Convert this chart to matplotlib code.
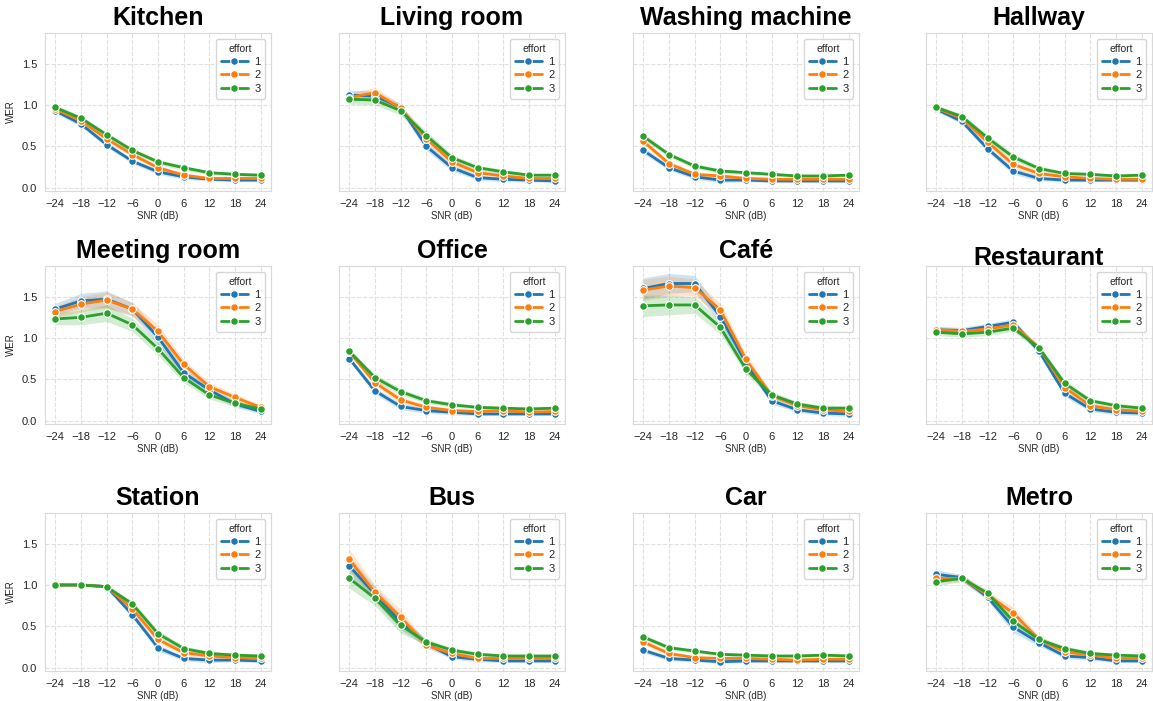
import numpy as np
import matplotlib
matplotlib.use("Agg")
import matplotlib.pyplot as plt
import seaborn as sns

sns.set_style("whitegrid", {"grid.linestyle": "--", "axes.edgecolor": ".85", "grid.color": ".88"})
plt.rcParams['font.family'] = ['Liberation Sans', 'DejaVu Sans']

snr = [-24, -18, -12, -6, 0, 6, 12, 18, 24]
efforts = ["1", "2", "3"]
colors = ["#1f77b4", "#ff7f0e", "#2ca02c"]

# mean WER per effort level (rows) over SNR
kitchen = [[0.93, 0.77, 0.52, 0.32, 0.19, 0.13, 0.10, 0.09, 0.09],
           [0.95, 0.81, 0.59, 0.40, 0.24, 0.15, 0.11, 0.11, 0.11],
           [0.97, 0.84, 0.64, 0.45, 0.31, 0.24, 0.18, 0.16, 0.15]]
living_room = [[1.12, 1.11, 0.97, 0.50, 0.24, 0.12, 0.10, 0.09, 0.08],
               [1.09, 1.15, 0.96, 0.59, 0.31, 0.18, 0.14, 0.11, 0.11],
               [1.07, 1.06, 0.93, 0.63, 0.36, 0.24, 0.19, 0.15, 0.15]]
washing_machine = [[0.45, 0.24, 0.13, 0.09, 0.09, 0.08, 0.08, 0.08, 0.08],
                   [0.56, 0.29, 0.16, 0.14, 0.11, 0.10, 0.10, 0.10, 0.10],
                   [0.62, 0.40, 0.26, 0.20, 0.18, 0.16, 0.14, 0.14, 0.15]]
hallway = [[0.95, 0.80, 0.47, 0.20, 0.11, 0.09, 0.09, 0.09, 0.09],
           [0.96, 0.84, 0.55, 0.28, 0.17, 0.13, 0.11, 0.10, 0.10],
           [0.97, 0.86, 0.60, 0.37, 0.23, 0.17, 0.16, 0.14, 0.15]]
meeting_room = [[1.35, 1.45, 1.47, 1.35, 1.01, 0.58, 0.37, 0.20, 0.11],
                [1.32, 1.41, 1.46, 1.35, 1.08, 0.68, 0.41, 0.28, 0.16],
                [1.23, 1.25, 1.30, 1.16, 0.87, 0.52, 0.31, 0.21, 0.14]]
office = [[0.75, 0.36, 0.17, 0.12, 0.10, 0.08, 0.08, 0.08, 0.08],
          [0.83, 0.46, 0.25, 0.16, 0.12, 0.11, 0.12, 0.10, 0.11],
          [0.84, 0.52, 0.35, 0.24, 0.19, 0.16, 0.15, 0.14, 0.15]]
cafe = [[1.60, 1.66, 1.66, 1.26, 0.70, 0.24, 0.13, 0.09, 0.08],
        [1.58, 1.63, 1.61, 1.34, 0.74, 0.30, 0.18, 0.13, 0.11],
        [1.39, 1.40, 1.40, 1.13, 0.62, 0.31, 0.20, 0.15, 0.15]]
restaurant = [[1.10, 1.09, 1.14, 1.19, 0.84, 0.33, 0.14, 0.10, 0.09],
              [1.10, 1.08, 1.11, 1.16, 0.88, 0.40, 0.18, 0.13, 0.11],
              [1.07, 1.05, 1.07, 1.12, 0.88, 0.45, 0.24, 0.18, 0.15]]
station = [[1.00, 1.00, 0.98, 0.64, 0.24, 0.11, 0.09, 0.09, 0.08],
           [1.00, 1.00, 0.98, 0.71, 0.34, 0.18, 0.14, 0.12, 0.11],
           [1.00, 1.00, 0.98, 0.77, 0.41, 0.23, 0.17, 0.15, 0.14]]
bus = [[1.23, 0.89, 0.55, 0.29, 0.13, 0.10, 0.08, 0.08, 0.08],
       [1.31, 0.91, 0.61, 0.27, 0.17, 0.11, 0.11, 0.11, 0.11],
       [1.08, 0.84, 0.51, 0.31, 0.21, 0.16, 0.14, 0.14, 0.14]]
car = [[0.21, 0.11, 0.09, 0.07, 0.08, 0.08, 0.08, 0.08, 0.08],
       [0.31, 0.17, 0.12, 0.11, 0.11, 0.10, 0.09, 0.10, 0.10],
       [0.37, 0.24, 0.20, 0.16, 0.15, 0.14, 0.14, 0.15, 0.14]]
metro = [[1.13, 1.09, 0.85, 0.49, 0.30, 0.14, 0.12, 0.08, 0.08],
         [1.08, 1.08, 0.88, 0.66, 0.34, 0.19, 0.15, 0.11, 0.11],
         [1.04, 1.08, 0.90, 0.56, 0.34, 0.23, 0.17, 0.15, 0.14]]

# half-width of the confidence band over SNR
kitchen_ci = [0.03, 0.03, 0.03, 0.03, 0.03, 0.03, 0.02, 0.02, 0.02]
living_room_ci = [0.06, 0.06, 0.05, 0.05, 0.04, 0.03, 0.03, 0.02, 0.02]
washing_machine_ci = [0.04, 0.03, 0.03, 0.03, 0.02, 0.02, 0.02, 0.02, 0.02]
hallway_ci = [0.03, 0.03, 0.04, 0.04, 0.03, 0.02, 0.02, 0.02, 0.02]
meeting_room_ci = [0.07, 0.09, 0.10, 0.08, 0.08, 0.06, 0.05, 0.04, 0.03]
office_ci = [0.03, 0.04, 0.04, 0.03, 0.03, 0.02, 0.02, 0.02, 0.02]
cafe_ci = [0.13, 0.12, 0.10, 0.08, 0.06, 0.04, 0.03, 0.03, 0.03]
restaurant_ci = [0.04, 0.04, 0.04, 0.04, 0.04, 0.04, 0.03, 0.03, 0.03]
station_ci = [0.0, 0.0, 0.01, 0.04, 0.04, 0.03, 0.03, 0.02, 0.02]
bus_ci = [0.12, 0.09, 0.09, 0.04, 0.03, 0.03, 0.02, 0.02, 0.02]
car_ci = [0.03, 0.03, 0.02, 0.02, 0.02, 0.02, 0.02, 0.02, 0.02]
metro_ci = [0.05, 0.04, 0.04, 0.07, 0.04, 0.03, 0.03, 0.02, 0.02]

panels = [("Kitchen", kitchen, kitchen_ci),
          ("Living room", living_room, living_room_ci),
          ("Washing machine", washing_machine, washing_machine_ci),
          ("Hallway", hallway, hallway_ci),
          ("Meeting room", meeting_room, meeting_room_ci),
          ("Office", office, office_ci),
          ("Café", cafe, cafe_ci),
          ("Restaurant", restaurant, restaurant_ci),
          ("Station", station, station_ci),
          ("Bus", bus, bus_ci),
          ("Car", car, car_ci),
          ("Metro", metro, metro_ci)]

W, H = 1153, 701
fig = plt.figure(figsize=(W / 100, H / 100), dpi=100)

col_left = [45, 339, 633, 926]
row_top = [33, 266, 513]
ax_w, ax_h = 226, 158

for i, (name, wer, ci) in enumerate(panels):
    r, c = divmod(i, 4)
    ax = fig.add_axes([col_left[c] / W, 1 - (row_top[r] + ax_h) / H, ax_w / W, ax_h / H])
    for k in range(3):
        m = np.array(wer[k])
        h = np.array(ci)
        ax.fill_between(snr, m - h, m + h, color=colors[k], alpha=0.2, linewidth=0)
        ax.plot(snr, m, color=colors[k], lw=2, marker="o", ms=5.5,
                mec="white", mew=0.8, label=efforts[k])
    ax.set_ylim(-0.042, 1.872)
    ax.set_xticks(snr)
    ax.set_xticklabels([str(s).replace("-", "\u2212") for s in snr])
    ax.set_yticks([0.0, 0.5, 1.0, 1.5])
    ax.tick_params(labelsize=8, colors=".15", pad=2)
    ax.set_xlabel("SNR (dB)", fontsize=7, color=".15", labelpad=2)
    if c == 0:
        ax.set_ylabel("WER", fontsize=7, color=".15")
    else:
        ax.set_yticklabels([])
    pad = 1 if name == "Restaurant" else 6
    ax.set_title(name, fontsize=18, fontweight="bold", color="black", pad=pad)
    leg = ax.legend(title="effort", loc="upper right", fontsize=8, title_fontsize=7.5,
                    handlelength=2.4, borderpad=0.45, labelspacing=0.3, handletextpad=0.6)
    leg.get_frame().set_edgecolor(".8")

fig.savefig("out.png", dpi=100)
